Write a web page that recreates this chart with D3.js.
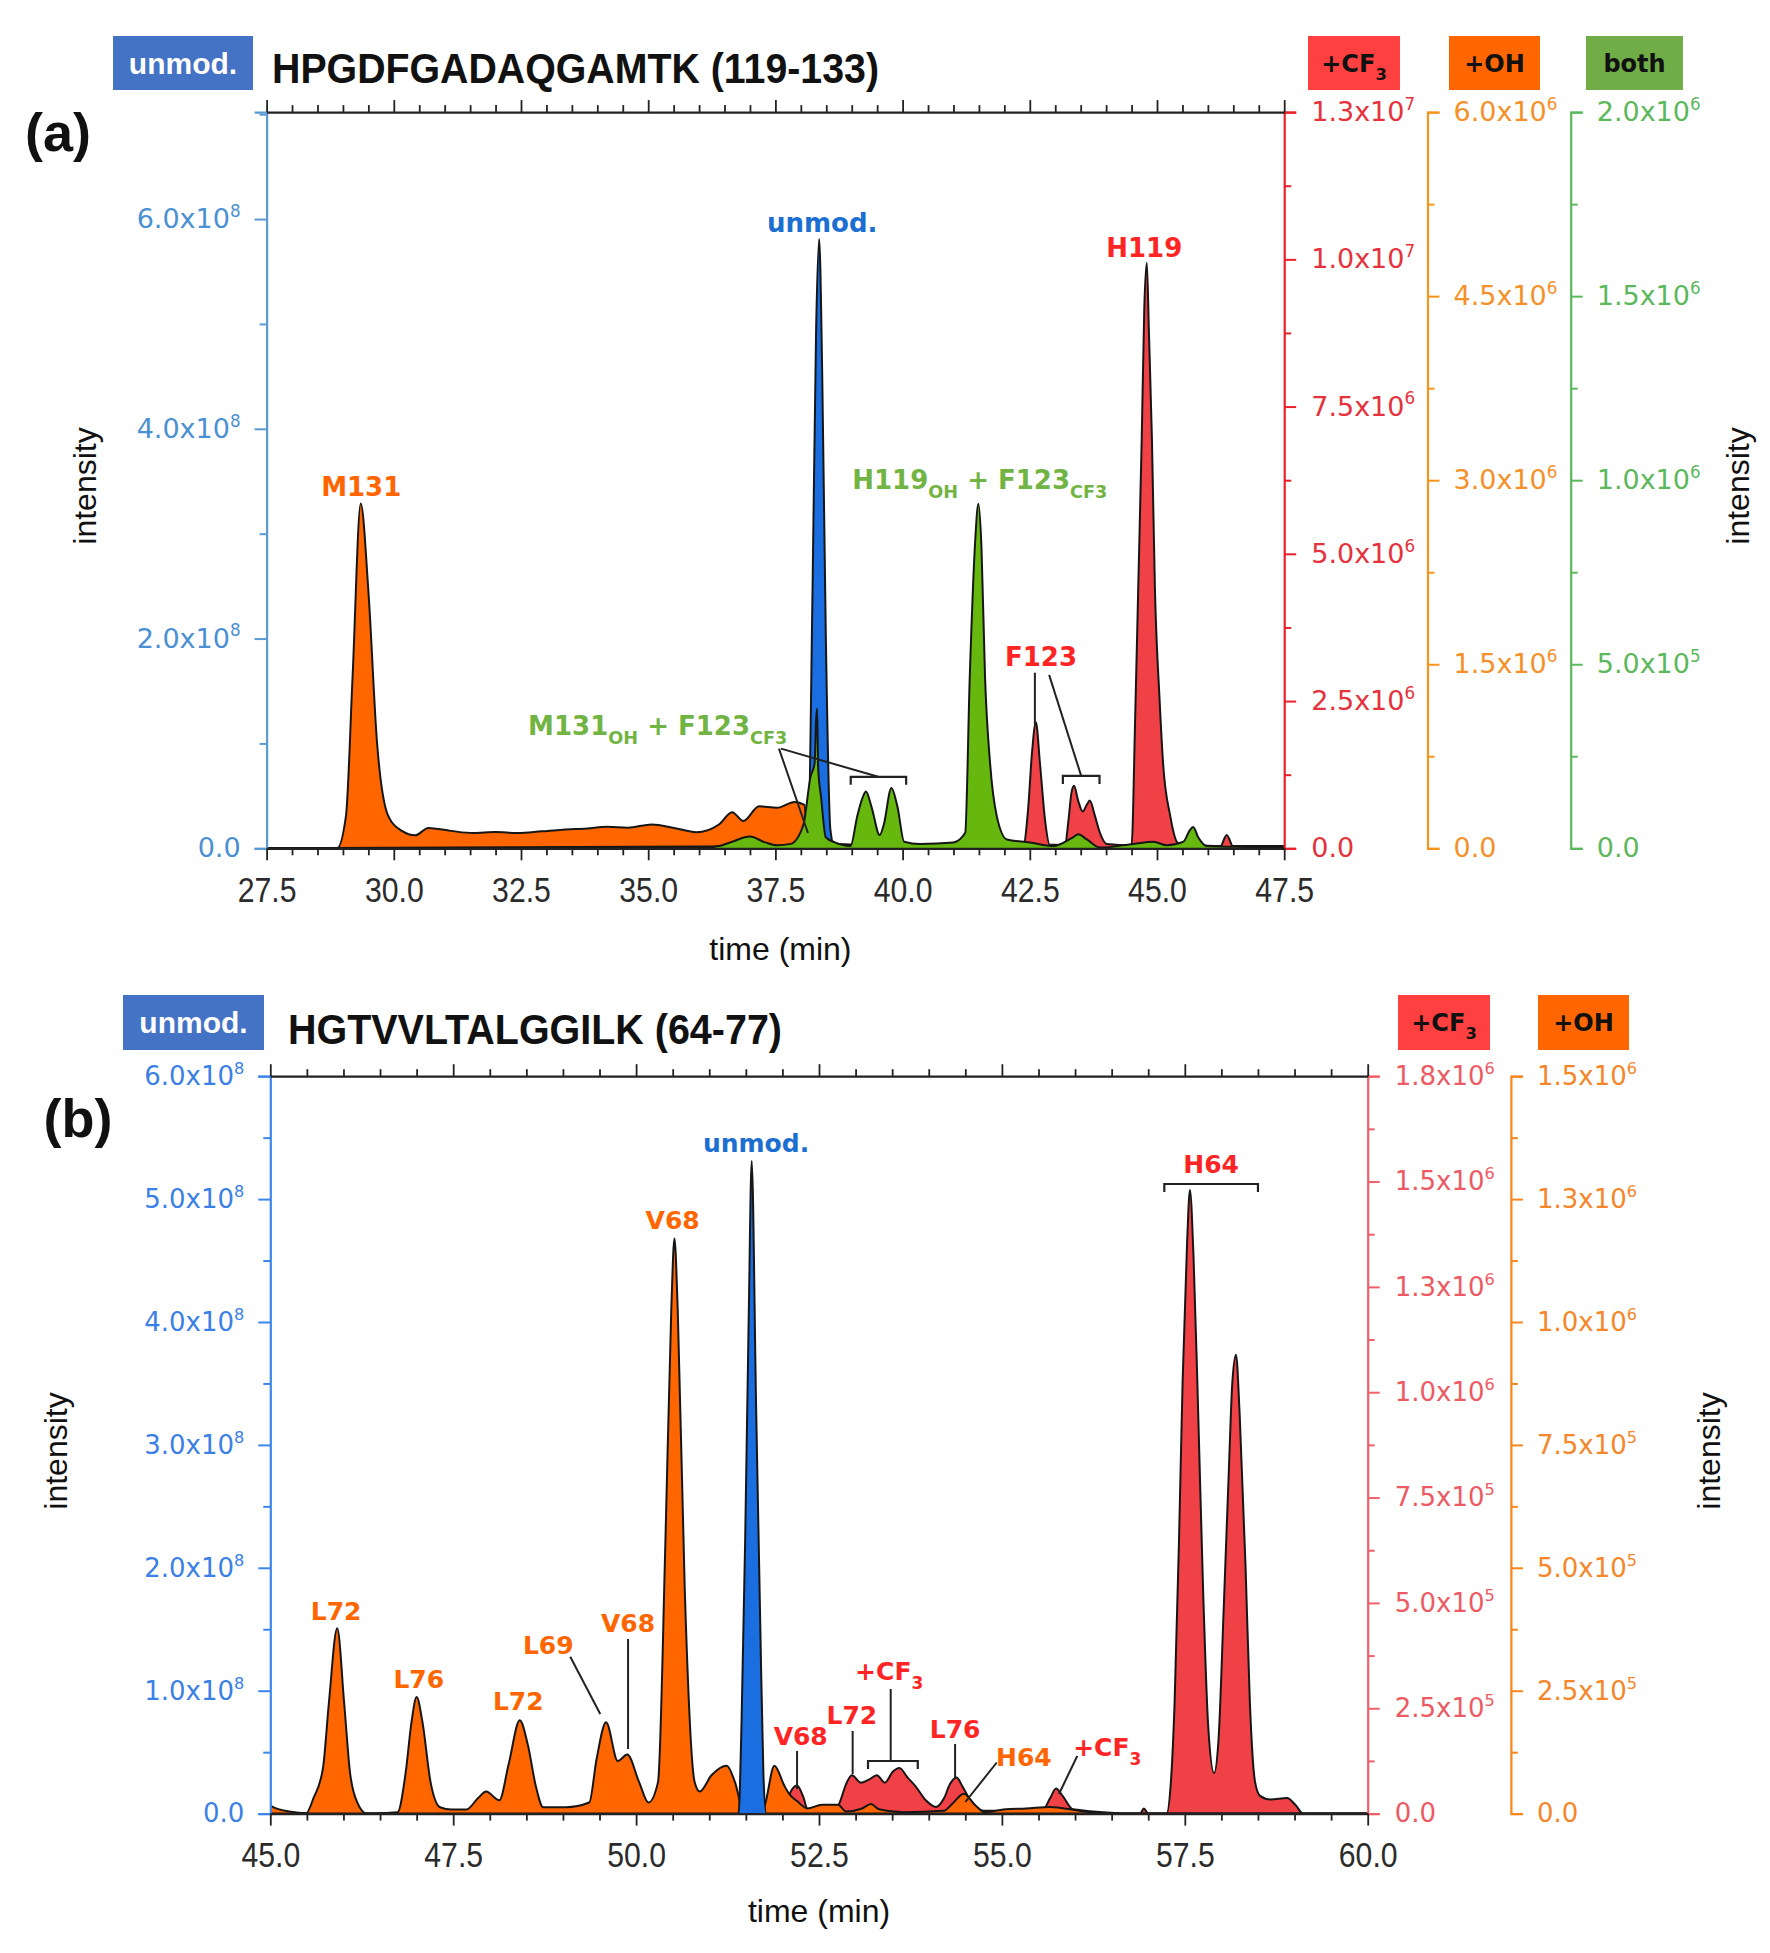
<!DOCTYPE html>
<html><head><meta charset="utf-8">
<script src="https://cdn.jsdelivr.net/npm/d3@7"></script>
<style>body{margin:0;background:#fff}svg{display:block}</style>
</head><body>
<svg id="chart" width="1770" height="1953"></svg>
<script>
// ---------------- DATA (panel a: HPGDFGADAQGAMTK 119-133) ----------------
const aTimeTicks = [27.5, 30, 32.5, 35, 37.5, 40, 42.5, 45, 47.5];
const aUnmodTicks = [0, 2e8, 4e8, 6e8];
const aCF3Ticks = [0, 2.5e6, 5e6, 7.5e6, 1e7, 1.25e7];
const aOHTicks = [0, 1.5e6, 3e6, 4.5e6, 6e6];
const aBothTicks = [0, 5e5, 1e6, 1.5e6, 2e6];

const aOH_t = [27.5, 28.885, 29.06, 29.19, 29.35, 29.50, 29.67, 29.89, 30.16, 30.42, 30.68, 31.12, 31.56, 32.0, 32.44, 32.9, 33.32, 33.8, 34.19, 34.6, 35.07, 35.51, 35.95, 36.39, 36.65, 36.87, 37.18, 37.53, 37.88, 38.07, 38.14, 38.3, 38.7, 39.5, 40.5, 41.5, 42.5, 43.5, 44.5, 45.5, 46.5, 47.5];
const aOH_v = [0, 0, 2.64e5, 1.40e6, 2.81e6, 2.10e6, 8.64e5, 2.64e5, 1.42e5, 1.06e5, 1.66e5, 1.42e5, 1.24e5, 1.32e5, 1.24e5, 1.38e5, 1.52e5, 1.62e5, 1.76e5, 1.68e5, 1.94e5, 1.66e5, 1.31e5, 1.94e5, 2.94e5, 2.22e5, 3.42e5, 3.30e5, 3.78e5, 3.54e5, 0, 2.4e4, 3.6e4, 1.8e4, 2.4e4, 1.8e4, 3.0e4, 2.4e4, 1.8e4, 2.4e4, 1.8e4, 1.8e4];

const aCF3_t = [27.5, 42.37, 42.47, 42.54, 42.62, 42.70, 42.80, 42.90, 43.19, 43.26, 43.32, 43.37, 43.45, 43.54, 43.62, 43.68, 43.78, 43.88, 44.01, 44.50, 44.57, 44.63, 44.70, 44.75, 44.80, 44.84, 44.90, 44.96, 45.05, 45.12, 45.26, 45.39, 45.52, 46.24, 46.37, 46.50, 47.5];
const aCF3_v = [0, 5e4, 7.0e5, 1.59e6, 2.14e6, 1.44e6, 4.75e5, 3.75e4, 3.75e4, 4.75e5, 9.5e5, 1.06e6, 8.1e5, 6.25e5, 7.4e5, 8.1e5, 5.5e5, 2.6e5, 7.5e4, 5e4, 2.18e6, 4.38e6, 6.96e6, 9.16e6, 9.94e6, 8.8e6, 6.96e6, 4.38e6, 2.54e6, 1.44e6, 5.5e5, 1.1e5, 3.75e4, 2.5e4, 2.25e5, 2.5e4, 1.25e4];

const aBoth_t = [27.5, 36.0, 36.39, 36.65, 37.0, 37.3, 37.53, 37.8, 38.05, 38.19, 38.27, 38.30, 38.32, 38.34, 38.40, 38.49, 38.67, 38.975, 39.11, 39.21, 39.28, 39.39, 39.55, 39.63, 39.78, 39.90, 40.03, 40.34, 41.0, 41.23, 41.32, 41.42, 41.49, 41.55, 41.62, 41.72, 41.85, 42.05, 42.5, 42.96, 43.35, 43.45, 43.62, 43.88, 44.54, 44.93, 45.19, 45.52, 45.64, 45.71, 45.81, 45.98, 46.5, 47.5];
const aBoth_v = [0, 0, 6e3, 1.8e4, 3.2e4, 1.6e4, 8e3, 1.2e4, 6.4e4, 1.94e5, 2.3e5, 3.5e5, 3.8e5, 2.2e5, 1.36e5, 3e4, 1.6e4, 6e3, 8.8e4, 1.36e5, 1.54e5, 1.12e5, 3.6e4, 6.4e4, 1.64e5, 1.12e5, 1.8e4, 1.2e4, 1.6e4, 4.2e4, 4.66e5, 8.18e5, 9.36e5, 8.18e5, 4.66e5, 2.3e5, 8.8e4, 2.4e4, 1.6e4, 6e3, 3e4, 3.8e4, 2.4e4, 2e3, 1.2e4, 1.8e4, 8e3, 1.8e4, 4.8e4, 5.8e4, 3e4, 6e3, 4e3, 2e3];

const aUnmod_t = [27.5, 38.0, 38.14, 38.23, 38.30, 38.36, 38.42, 38.49, 38.58, 38.67, 39.0, 47.5];
const aUnmod_v = [0, 0, 2.1e6, 2.46e8, 4.94e8, 5.81e8, 4.53e8, 2.05e8, 1.83e7, 0, 0, 0];

// ---------------- DATA (panel b: HGTVVLTALGGILK 64-77) ----------------
const bTimeTicks = [45, 47.5, 50, 52.5, 55, 57.5, 60];
const bUnmodTicks = [0, 1e8, 2e8, 3e8, 4e8, 5e8, 6e8];
const bCF3Ticks = [0, 2.5e5, 5e5, 7.5e5, 1e6, 1.25e6, 1.5e6, 1.75e6];
const bOHTicks = [0, 2.5e5, 5e5, 7.5e5, 1e6, 1.25e6, 1.5e6];

const bOH_t = [45.0, 45.04, 45.28, 45.49, 45.59, 45.72, 45.80, 45.915, 46.01, 46.09, 46.19, 46.32, 46.74, 46.85, 46.93, 47.00, 47.08, 47.19, 47.32, 47.475, 47.68, 47.84, 47.95, 48.13, 48.26, 48.41, 48.52, 48.63, 48.73, 49.04, 49.36, 49.46, 49.59, 49.75, 49.88, 50.04, 50.17, 50.30, 50.40, 50.48, 50.524, 50.57, 50.665, 50.80, 50.87, 51.03, 51.24, 51.35, 51.48, 51.66, 51.76, 51.89, 52.03, 52.09, 52.20, 52.34, 52.54, 52.76, 52.87, 53.09, 53.21, 53.32, 53.65, 54.21, 54.32, 54.48, 54.63, 54.77, 55.05, 55.33, 55.66, 56.05, 56.44, 60.0];
const bOH_v = [1.77e4, 1.3e4, 3.75e3, 900, 3.15e4, 9.24e4, 2.24e5, 3.77e5, 2.24e5, 8.31e4, 2.25e4, 0, 3e3, 8.31e4, 1.86e5, 2.37e5, 1.86e5, 6.45e4, 1.3e4, 8.4e3, 8.4e3, 3.15e4, 4.5e4, 2.7e4, 1.02e5, 1.9e5, 1.4e5, 5.55e4, 1.3e4, 1.3e4, 2.25e4, 1.11e5, 1.86e5, 1.07e5, 1.2e5, 6.45e4, 2.25e4, 6.45e4, 5.5e5, 1.02e6, 1.17e6, 1.02e6, 4.56e5, 6.45e4, 4.5e4, 7.8e4, 9.75e4, 6.45e4, 0, 0, 1.8e4, 9.75e4, 5.55e4, 4.05e4, 2.55e4, 1.05e4, 1.8e4, 1.8e4, 4.5e3, 1.05e4, 1.95e4, 9e3, 3e3, 6e3, 1.95e4, 4.05e4, 1.8e4, 3e3, 9e3, 1.05e4, 1.35e4, 6e3, 0, 0];

const bCF3_t = [45.0, 52.03, 52.10, 52.20, 52.28, 52.36, 52.70, 52.79, 52.87, 52.95, 53.07, 53.18, 53.29, 53.40, 53.51, 53.60, 53.71, 53.82, 53.96, 54.10, 54.21, 54.29, 54.38, 54.46, 54.57, 54.74, 55.55, 55.66, 55.74, 55.83, 55.97, 56.89, 56.94, 57.00, 57.25, 57.31, 57.36, 57.42, 57.47, 57.53, 57.57, 57.62, 57.68, 57.75, 57.82, 57.90, 57.96, 58.03, 58.10, 58.15, 58.20, 58.25, 58.33, 58.39, 58.46, 58.53, 58.67, 58.90, 59.01, 59.12, 60.0];
const bCF3_v = [0, 0, 4.73e4, 6.65e4, 4.2e4, 3.5e3, 0, 2.98e4, 7e4, 9.1e4, 7.35e4, 8.05e4, 9.1e4, 7.35e4, 9.98e4, 1.085e5, 8.58e4, 6.48e4, 3.15e4, 1.58e4, 3.68e4, 7e4, 8.58e4, 6.48e4, 3.15e4, 7e3, 7e3, 3.68e4, 5.95e4, 4.2e4, 1.05e4, 0, 1.23e4, 0, 0, 7.53e4, 2.61e5, 6.42e5, 1.024e6, 1.349e6, 1.48e6, 1.318e6, 9.7e5, 5.32e5, 2.07e5, 9.63e4, 1.73e5, 4.78e5, 8.05e5, 1.024e6, 1.089e6, 9.47e5, 5.88e5, 2.61e5, 7.53e4, 4.2e4, 3.33e4, 3.68e4, 2.1e4, 0, 0];

const bUnmod_t = [45.0, 51.0, 51.40, 51.44, 51.49, 51.54, 51.58, 51.64, 51.70, 51.74, 51.78, 52.2, 60.0];
const bUnmod_v = [0, 0, 0, 7.08e7, 2.2e8, 4.07e8, 5.31e8, 3.32e8, 1.45e8, 3.3e7, 0, 0, 0];

// ---------------- STYLE ----------------
const NUM_FONT = "'DejaVu Sans', Verdana, sans-serif";
const LAB_FONT = "'DejaVu Sans', Verdana, sans-serif";
const TXT_FONT = "'Liberation Sans', Arial, sans-serif";
const C = {
  fillOH: "#ff6600", fillCF3: "#f04146", fillBoth: "#66b80f", fillUnmod: "#1a6ee0",
  labOH: "#ff6600", labCF3: "#ff2525", labBoth: "#72b443", labUnmod: "#1c6fd1",
  boxUnmod: "#4472c4", boxCF3: "#ff4040", boxOH: "#ff6600", boxBoth: "#70ad47"
};

const svg = d3.select("#chart");
svg.append("rect").attr("width", 1770).attr("height", 1953).attr("fill", "#fff");

function sciParts(v) {
  if (v === 0) return ["0.0", null];
  const e = Math.floor(Math.log10(v) + 1e-9);
  const m = v / Math.pow(10, e);
  return [m.toFixed(1) + "x10", String(e)];
}

function rich(parent, x, y, parts, o) {
  const t = parent.append("text").attr("x", x).attr("y", y)
    .attr("text-anchor", o.anchor || "start")
    .attr("font-family", o.font || LAB_FONT).attr("font-size", o.size)
    .attr("font-weight", o.weight || "bold").attr("fill", o.color);
  let prev = 0;
  parts.forEach(p => {
    const ts = t.append("tspan").text(p.t);
    const shift = p.sub ? 0.34 : (p.sup ? -0.42 : 0);
    const d = (shift - prev) * o.size;
    if (d) ts.attr("dy", d);
    if (p.sub || p.sup) ts.attr("font-size", o.size * 0.68);
    prev = shift;
  });
  return t;
}

function styleYAxis(g, color, labColor, fs) {
  g.select(".domain").attr("stroke", color).attr("stroke-width", 2.2);
  g.selectAll(".tick line").attr("stroke", color).attr("stroke-width", 2);
  g.selectAll(".tick text").attr("fill", labColor).attr("font-family", NUM_FONT).attr("font-size", fs)
    .each(function (d) {
      const t = d3.select(this); const [m, e] = sciParts(d);
      t.text(null); t.append("tspan").text(m);
      if (e !== null) t.append("tspan").attr("dy", -fs * 0.42).attr("font-size", fs * 0.62).text(e);
    });
}

function yAxis(g, scale, side, xPos, major, step, color, labColor, fs, pad) {
  const maj = side === "left" ? d3.axisLeft(scale) : d3.axisRight(scale);
  const [d0, d1] = scale.domain();
  const minors = d3.range(d0, d1 + step / 2, step).filter(v => !major.some(m => Math.abs(m - v) < step * 0.01));
  const mi = side === "left" ? d3.axisLeft(scale) : d3.axisRight(scale);
  const gm = g.append("g").attr("transform", `translate(${xPos},0)`)
    .call(mi.tickValues(minors).tickSize(7).tickFormat(""));
  gm.select(".domain").remove();
  gm.selectAll(".tick line").attr("stroke", color).attr("stroke-width", 2);
  const ga = g.append("g").attr("transform", `translate(${xPos},0)`)
    .call(maj.tickValues(major).tickSize(12).tickSizeOuter(12).tickPadding(pad));
  styleYAxis(ga, color, labColor, fs);
  return ga;
}

function xAxes(g, x, yBottom, yTop, major) {
  const [d0, d1] = x.domain();
  const minors = d3.range(d0, d1 + 0.25, 0.5).filter(v => !major.some(m => Math.abs(m - v) < 0.01));
  [[d3.axisBottom, yBottom, true], [d3.axisTop, yTop, false]].forEach(([fn, yy, lab]) => {
    const gm = g.append("g").attr("transform", `translate(0,${yy})`).call(fn(x).tickValues(minors).tickSize(7).tickFormat(""));
    gm.select(".domain").remove();
    gm.selectAll(".tick line").attr("stroke", "#222").attr("stroke-width", 1.8);
    const ga = g.append("g").attr("transform", `translate(0,${yy})`)
      .call(fn(x).tickValues(major).tickSize(12).tickSizeOuter(0).tickPadding(16)
        .tickFormat(lab ? d3.format(".1f") : ""));
    ga.select(".domain").attr("stroke", "#222").attr("stroke-width", 2.2);
    ga.selectAll(".tick line").attr("stroke", "#222").attr("stroke-width", 1.8);
    ga.selectAll(".tick text").attr("fill", "#2b2b2b").attr("font-family", TXT_FONT).attr("font-size", 36)
      .attr("transform", "scale(0.84,1)");
  });
}

function drawSeries(g, x, y, times, vals, fill) {
  const pts = d3.zip(times, vals);
  const area = d3.area().x(d => x(d[0])).y0(y(0)).y1(d => y(d[1])).curve(d3.curveMonotoneX);
  const line = d3.line().x(d => x(d[0])).y(d => y(d[1])).curve(d3.curveMonotoneX);
  g.append("path").datum(pts).attr("d", area).attr("fill", fill);
  g.append("path").datum(pts).attr("d", line).attr("fill", "none").attr("stroke", "#161616")
    .attr("stroke-width", 2).attr("stroke-linejoin", "round");
}

function box(parent, x, y, w, h, fill, parts, txtColor, size, font) {
  parent.append("rect").attr("x", x).attr("y", y).attr("width", w).attr("height", h).attr("fill", fill);
  rich(parent, x + w / 2, y + h / 2 + size * 0.36, parts, { anchor: "middle", size: size, color: txtColor, font: font });
}

function plainText(parent, x, y, txt, o) {
  return parent.append("text").attr("x", x).attr("y", y).attr("text-anchor", o.anchor || "middle")
    .attr("font-family", o.font || TXT_FONT).attr("font-size", o.size)
    .attr("font-weight", o.weight || "normal").attr("fill", o.color || "#111").text(txt);
}

function seg(g, x1, y1, x2, y2) {
  g.append("line").attr("x1", x1).attr("y1", y1).attr("x2", x2).attr("y2", y2)
    .attr("stroke", "#222").attr("stroke-width", 2);
}
function bracket(g, x1, x2, yy) {
  g.append("path").attr("d", `M${x1},${yy + 8}L${x1},${yy}L${x2},${yy}L${x2},${yy + 8}`)
    .attr("fill", "none").attr("stroke", "#222").attr("stroke-width", 2.2);
}

// =============== PANEL A ===============
(function () {
  const L = 266.6, R = 1284.2, T = 112.1, B = 848.3;
  const g = svg.append("g");
  const x = d3.scaleLinear().domain([27.5, 47.5]).range([L, R]);
  const yU = d3.scaleLinear().domain([0, 7.02e8]).range([B, T]);
  const yC = d3.scaleLinear().domain([0, 1.25e7]).range([B, T]);
  const yO = d3.scaleLinear().domain([0, 6e6]).range([B, T]);
  const yB = d3.scaleLinear().domain([0, 2e6]).range([B, T]);

  g.append("clipPath").attr("id", "clipA").append("rect").attr("x", L).attr("y", T).attr("width", R - L).attr("height", B - T + 1);
  const pg = g.append("g").attr("clip-path", "url(#clipA)");
  drawSeries(pg, x, yO, aOH_t, aOH_v, C.fillOH);
  drawSeries(pg, x, yC, aCF3_t, aCF3_v, C.fillCF3);
  drawSeries(pg, x, yU, aUnmod_t, aUnmod_v, C.fillUnmod);
  drawSeries(pg, x, yB, aBoth_t, aBoth_v, C.fillBoth);

  yAxis(g, yU, "left", L, aUnmodTicks, 1e8, "#5a9bd5", "#4a90d2", 27, 14);
  yAxis(g, yC, "right", R, aCF3Ticks, 1.25e6, "#e8202a", "#e5323c", 27, 15);
  yAxis(g, yO, "right", 1427.5, aOHTicks, 7.5e5, "#f7941d", "#f5912a", 27, 14);
  yAxis(g, yB, "right", 1570.7, aBothTicks, 2.5e5, "#5cb85c", "#5cb85c", 27, 14);
  xAxes(g, x, B, T, aTimeTicks);

  // annotations
  rich(g, x(29.36), 496, [{ t: "M131" }], { anchor: "middle", size: 26, color: C.labOH });
  rich(g, x(38.42), 232, [{ t: "unmod." }], { anchor: "middle", size: 26, color: C.labUnmod });
  rich(g, x(44.75), 257, [{ t: "H119" }], { anchor: "middle", size: 26, color: C.labCF3 });
  rich(g, x(42.72), 666, [{ t: "F123" }], { anchor: "middle", size: 26, color: C.labCF3 });
  rich(g, x(39.01), 489, [{ t: "H119" }, { t: "OH", sub: true }, { t: " + F123" }, { t: "CF3", sub: true }], { size: 26, color: C.labBoth });
  rich(g, x(32.64), 735, [{ t: "M131" }, { t: "OH", sub: true }, { t: " + F123" }, { t: "CF3", sub: true }], { size: 26, color: C.labBoth });
  seg(g, x(37.57), 748.6, x(38.14), 833);
  seg(g, x(37.61), 748.6, x(39.52), 776.8);
  bracket(g, x(38.98), x(40.07), 776.8);
  seg(g, x(42.60), 672.7, x(42.60), 724.7);
  seg(g, x(42.88), 674.9, x(43.51), 775.9);
  bracket(g, x(43.15), x(43.87), 775.9);

  // titles, boxes, axis titles
  box(g, 113, 36, 140, 54, C.boxUnmod, [{ t: "unmod." }], "#fff", 30, TXT_FONT);
  plainText(g, 272, 83, "HPGDFGADAQGAMTK (119-133)", { anchor: "start", size: 42, weight: "bold" })
    .attr("textLength", 607).attr("lengthAdjust", "spacingAndGlyphs");
  box(g, 1308, 36, 92, 54, C.boxCF3, [{ t: "+CF" }, { t: "3", sub: true }], "#111", 24);
  box(g, 1449, 36, 91, 54, C.boxOH, [{ t: "+OH" }], "#111", 24);
  box(g, 1586, 36, 97, 54, C.boxBoth, [{ t: "both" }], "#111", 24);
  plainText(g, 58, 151, "(a)", { size: 54, weight: "bold" });
  plainText(g, 0, 0, "intensity", { size: 32 }).attr("transform", "translate(96,486) rotate(-90)");
  plainText(g, 0, 0, "intensity", { size: 32 }).attr("transform", "translate(1749,486) rotate(-90)");
  plainText(g, (L + R) / 2 + 5, 960, "time (min)", { size: 32 });
})();

// =============== PANEL B ===============
(function () {
  const L = 270.3, R = 1367.7, T = 1076.2, B = 1813.6;
  const g = svg.append("g");
  const x = d3.scaleLinear().domain([45, 60]).range([L, R]);
  const yU = d3.scaleLinear().domain([0, 6e8]).range([B, T]);
  const yC = d3.scaleLinear().domain([0, 1.75e6]).range([B, T]);
  const yO = d3.scaleLinear().domain([0, 1.5e6]).range([B, T]);

  g.append("clipPath").attr("id", "clipB").append("rect").attr("x", L).attr("y", T).attr("width", R - L).attr("height", B - T + 1);
  const pg = g.append("g").attr("clip-path", "url(#clipB)");
  drawSeries(pg, x, yC, bCF3_t, bCF3_v, C.fillCF3);
  drawSeries(pg, x, yO, bOH_t, bOH_v, C.fillOH);
  drawSeries(pg, x, yU, bUnmod_t, bUnmod_v, C.fillUnmod);

  yAxis(g, yU, "left", L, bUnmodTicks, 5e7, "#3d85ea", "#3b80e6", 26, 14);
  yAxis(g, yC, "right", R, bCF3Ticks, 1.25e5, "#f0606a", "#ec5a64", 26, 15);
  yAxis(g, yO, "right", 1510.9, bOHTicks, 1.25e5, "#f7861e", "#f5862a", 26, 14);
  xAxes(g, x, B, T, bTimeTicks);

  rich(g, x(51.64), 1152, [{ t: "unmod." }], { anchor: "middle", size: 25, color: C.labUnmod });
  rich(g, x(50.50), 1229, [{ t: "V68" }], { anchor: "middle", size: 25, color: C.labOH });
  rich(g, x(57.86), 1173, [{ t: "H64" }], { anchor: "middle", size: 25, color: C.labCF3 });
  bracket(g, x(57.22), x(58.50), 1184);
  rich(g, x(45.90), 1620, [{ t: "L72" }], { anchor: "middle", size: 25, color: C.labOH });
  rich(g, x(47.03), 1688, [{ t: "L76" }], { anchor: "middle", size: 25, color: C.labOH });
  rich(g, x(48.39), 1710, [{ t: "L72" }], { anchor: "middle", size: 25, color: C.labOH });
  rich(g, x(48.80), 1654, [{ t: "L69" }], { anchor: "middle", size: 25, color: C.labOH });
  seg(g, x(49.10), 1656.7, x(49.51), 1714);
  rich(g, x(49.89), 1632, [{ t: "V68" }], { anchor: "middle", size: 25, color: C.labOH });
  seg(g, x(49.89), 1639, x(49.89), 1749);
  rich(g, x(52.25), 1745, [{ t: "V68" }], { anchor: "middle", size: 25, color: C.labCF3 });
  seg(g, x(52.20), 1751, x(52.20), 1789);
  rich(g, x(52.95), 1724, [{ t: "L72" }], { anchor: "middle", size: 25, color: C.labCF3 });
  seg(g, x(52.96), 1731, x(52.96), 1774);
  rich(g, x(53.46), 1680, [{ t: "+CF" }, { t: "3", sub: true }], { anchor: "middle", size: 25, color: C.labCF3 });
  seg(g, x(53.48), 1689, x(53.48), 1761);
  bracket(g, x(53.17), x(53.85), 1761);
  rich(g, x(54.36), 1738, [{ t: "L76" }], { anchor: "middle", size: 25, color: C.labCF3 });
  seg(g, x(54.36), 1744, x(54.36), 1779);
  rich(g, x(55.30), 1766, [{ t: "H64" }], { anchor: "middle", size: 25, color: C.labOH });
  seg(g, x(54.93), 1762.5, x(54.50), 1802);
  rich(g, x(56.44), 1756, [{ t: "+CF" }, { t: "3", sub: true }], { anchor: "middle", size: 25, color: C.labCF3 });
  seg(g, x(56.03), 1756, x(55.78), 1794);

  box(g, 123, 995, 141, 55, C.boxUnmod, [{ t: "unmod." }], "#fff", 30, TXT_FONT);
  plainText(g, 288, 1044, "HGTVVLTALGGILK (64-77)", { anchor: "start", size: 42, weight: "bold" })
    .attr("textLength", 494).attr("lengthAdjust", "spacingAndGlyphs");
  box(g, 1398, 995, 92, 55, C.boxCF3, [{ t: "+CF" }, { t: "3", sub: true }], "#111", 24);
  box(g, 1538, 995, 91, 55, C.boxOH, [{ t: "+OH" }], "#111", 24);
  plainText(g, 78, 1137, "(b)", { size: 54, weight: "bold" });
  plainText(g, 0, 0, "intensity", { size: 32 }).attr("transform", "translate(67,1451) rotate(-90)");
  plainText(g, 0, 0, "intensity", { size: 32 }).attr("transform", "translate(1720,1451) rotate(-90)");
  plainText(g, (L + R) / 2, 1922, "time (min)", { size: 32 });
})();
</script>
</body></html>
